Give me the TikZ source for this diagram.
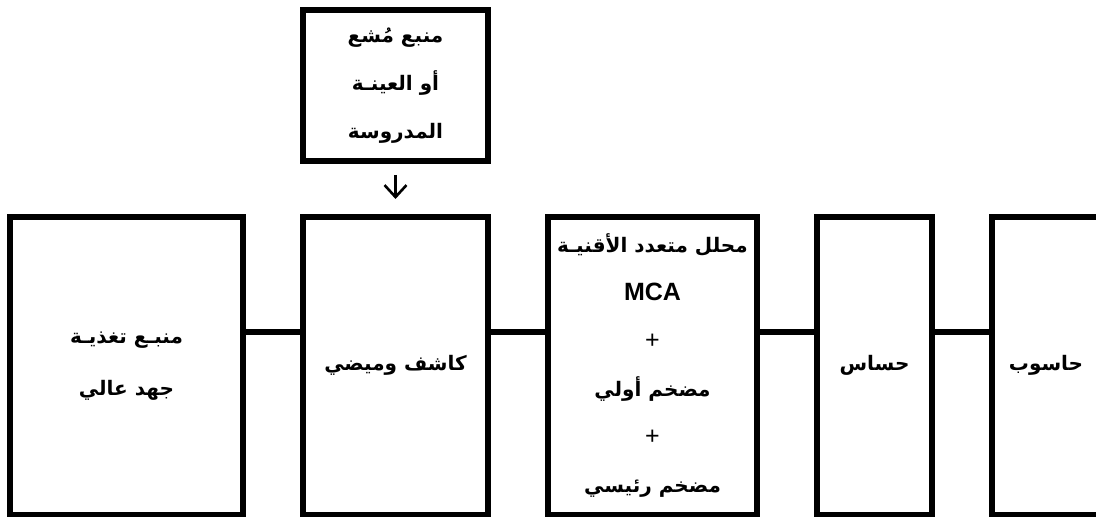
\documentclass[tikz,border=0pt]{standalone}
\usepackage{fontspec}
\setmainfont{Liberation Sans}
\newfontfamily\arabicfont[Script=Arabic,Scale=0.8]{DejaVu Sans}
\TeXXeTstate=1
\usetikzlibrary{positioning,arrows.meta}
\newcommand{\artxt}[1]{{\arabicfont\beginR #1\endR}}

\begin{document}
\begin{tikzpicture}[box/.style={draw, line width=3pt, outer sep=0pt, inner sep=0pt, minimum height=148.75pt, align=center},
    link/.style={line width=3pt}, flow/.style={line width=1.3pt, -{Straight Barb[length=6pt,width=11pt]}},
    font={\bfseries\fontsize{12.5}{24}\selectfont}]
    \useasboundingbox (0,0) rectangle (548pt,-258.5pt);
    \clip (0,0) rectangle (548pt,-258.5pt);

    \node[box, minimum width=116.5pt] (hv) at (63.25pt,-182.875pt) {\artxt{منبـع تغذيـة}\\[2pt]\artxt{جهد عالي}};
    \node[box, minimum width=92.5pt, right=30pt] at (hv.east) (det) {\artxt{كاشف وميضي}};
    \node[box, minimum width=104.5pt, right=30pt] at (det.east) (mca) {\artxt{محلل متعدد الأقنيـة}\\MCA\\{\mdseries +}\\\artxt{مضخم أولي}\\{\mdseries +}\\\artxt{مضخم رئيسي}};
    \node[box, minimum width=57.5pt, right=30pt] at (mca.east) (sens) {\artxt{حساس}};
    \node[box, minimum width=54pt, right=30pt] at (sens.east) (pc) {\artxt{حاسوب}};

    \node[box, minimum width=92.5pt, minimum height=75.5pt, above=28pt] at (det.north) (src) {\artxt{منبع مُشع}\\\artxt{أو العينـة}\\\artxt{المدروسة}};

    \draw[flow, shorten <=7pt, shorten >=9pt] (src) -- (det);
    \draw[link] ([yshift=16.9pt]hv.east) -- ([yshift=16.9pt]det.west);
    \draw[link] ([yshift=16.9pt]det.east) -- ([yshift=16.9pt]mca.west);
    \draw[link] ([yshift=16.9pt]mca.east) -- ([yshift=16.9pt]sens.west);
    \draw[link] ([yshift=16.9pt]sens.east) -- ([yshift=16.9pt]pc.west);
  \end{tikzpicture}
\end{document}
